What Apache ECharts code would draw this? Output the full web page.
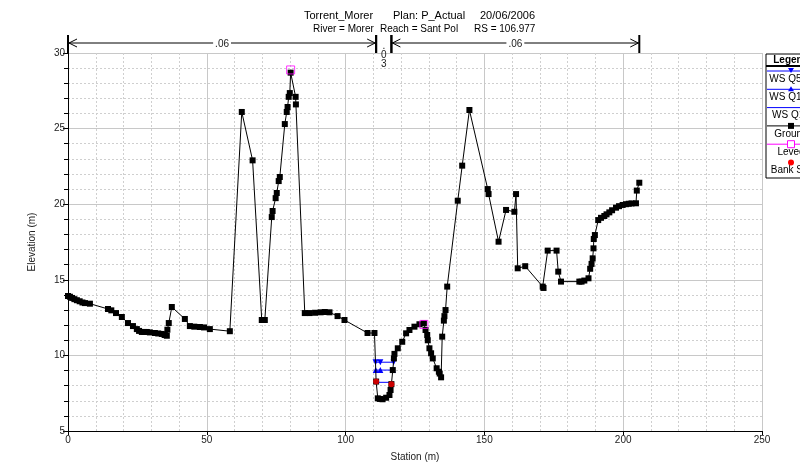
<!DOCTYPE html>
<html>
<head>
<meta charset="utf-8">
<script src="https://cdn.jsdelivr.net/npm/echarts@6/dist/echarts.min.js"></script>
<style>
  html, body { margin: 0; padding: 0; background: #fff; }
  #chart { width: 800px; height: 469px; }
</style>
</head>
<body>
<div id="chart"></div>
<script>
// Cross section profile: station (m) vs elevation (m)
var groundStation = [0, 0.7, 1.5, 2.3, 3.2, 4.2, 5.2, 6.1, 7.9, 14.4, 15.6, 17.3, 19.4, 21.6, 23.4, 24.8, 25.6, 26.6, 27.5, 28.4, 29.5, 31.3, 32.5, 33.8, 34.8, 35.6, 35.8, 36.3, 37.4, 42.1, 43.9, 45.5, 47.5, 49.0, 51.1, 58.3, 62.6, 66.5, 69.8, 70.9, 73.4, 73.7, 74.8, 75.2, 75.9, 76.3, 78.1, 78.8, 79.1, 79.5, 79.9, 80.2, 82.0, 82.1, 85.3, 87.0, 89.0, 91.0, 92.5, 94.2, 97.1, 99.6, 107.9, 110.4, 111.0, 111.6, 112.4, 113.3, 114.6, 115.8, 116.2, 116.5, 117.0, 117.4, 117.6, 118.8, 120.4, 121.8, 123.0, 124.8, 126.6, 128.2, 128.8, 129.4, 129.6, 130.2, 130.8, 131.4, 132.8, 133.6, 133.9, 134.4, 134.8, 135.4, 135.6, 136.0, 136.6, 140.4, 142.0, 144.6, 151.2, 151.5, 155.1, 157.8, 160.8, 161.4, 162.0, 164.7, 171.0, 171.3, 172.8, 176.0, 176.6, 177.6, 184.2, 185.0, 186.0, 187.5, 188.1, 188.6, 189.0, 189.3, 189.4, 189.8, 191.0, 192.0, 193.2, 194.0, 195.0, 196.0, 197.4, 198.5, 199.8, 201.0, 202.0, 203.0, 204.6, 204.9, 205.8];
var groundElevation = [13.93, 13.88, 13.8, 13.72, 13.65, 13.58, 13.5, 13.46, 13.42, 13.07, 12.98, 12.8, 12.54, 12.14, 11.94, 11.74, 11.62, 11.55, 11.55, 11.55, 11.52, 11.48, 11.45, 11.42, 11.35, 11.3, 11.7, 12.14, 13.2, 12.41, 11.94, 11.9, 11.88, 11.85, 11.74, 11.6, 26.1, 22.9, 12.34, 12.34, 19.15, 19.55, 20.4, 20.74, 21.53, 21.8, 25.3, 26.1, 26.43, 27.1, 27.35, 28.7, 27.1, 26.6, 12.8, 12.8, 12.82, 12.85, 12.87, 12.85, 12.6, 12.34, 11.48, 11.48, 8.27, 7.16, 7.12, 7.1, 7.2, 7.38, 7.71, 8.1, 9.03, 9.8, 10.1, 10.47, 10.9, 11.46, 11.68, 11.9, 12.06, 12.12, 11.68, 11.35, 11.0, 10.47, 10.14, 9.8, 9.15, 8.92, 8.8, 8.55, 11.24, 12.3, 12.6, 13.0, 14.55, 20.23, 22.55, 26.23, 21.0, 20.67, 17.52, 19.62, 19.5, 20.67, 15.76, 15.9, 14.55, 14.46, 16.93, 16.93, 15.54, 14.88, 14.88, 14.88, 14.95, 15.1, 15.73, 16.05, 16.42, 17.08, 17.7, 17.96, 18.95, 19.1, 19.22, 19.33, 19.46, 19.6, 19.77, 19.87, 19.95, 20.0, 20.03, 20.05, 20.06, 20.9, 21.42];

// Water surfaces across the main channel
var wsQ500Station = [110.8, 112.5, 117.3];
var wsQ500Elevation = [9.55, 9.55, 9.55];
var wsQ100Station = [110.85, 112.5, 117.0];
var wsQ100Elevation = [9.03, 9.03, 9.03];
var wsQ10Station = [111.05, 116.55];
var wsQ10Elevation = [8.22, 8.22];

// Levees and bank stations
var leveeStation = [80.2, 128.2];
var leveeElevation = [28.88, 12.05];
var bankStation = [111.0, 116.5];
var bankElevation = [8.27, 8.1];

// Manning's n breaks and values
var nBreaks = [0, 111.0, 116.5, 205.8];
var nValues = ['.06', '.03', '.06'];

var seriesNames = ['WS Q500', 'WS Q100', 'WS Q10', 'Ground', 'Levee', 'Bank Sta'];

var xTicks = [0, 50, 100, 150, 200, 250];
var yTicks = [5, 10, 15, 20, 25, 30];

var titleParts = ['Torrent_Morer', 'Plan: P_Actual', '20/06/2006'];
var subtitleParts = ['River = Morer', 'Reach = Sant Pol', 'RS = 106.977'];

function zip(a, b) { return a.map(function (v, i) { return [v, b[i]]; }); }

var FONT = '"Liberation Sans", Arial, sans-serif';
var chart = echarts.init(document.getElementById('chart'));

var nData = nValues.map(function (v, i) { return [nBreaks[i], nBreaks[i + 1], 30, v]; });

function renderN(params, api) {
  var p1 = api.coord([api.value(0), 30]);
  var p2 = api.coord([api.value(1), 30]);
  var label = nValues[params.dataIndex];
  var x1 = p1[0], x2 = p2[0], top = p1[1];
  var y = top - 10;
  var stroke = { stroke: '#000', lineWidth: 1 };
  var children = [];
  children.push({ type: 'line', shape: { x1: x1, y1: top - 18, x2: x1, y2: top }, style: { stroke: '#000', lineWidth: 2 } });
  children.push({ type: 'line', shape: { x1: x2, y1: top - 18, x2: x2, y2: top }, style: { stroke: '#000', lineWidth: 2 } });
  if (x2 - x1 > 40) {
    children.push({ type: 'line', shape: { x1: x1, y1: y, x2: x2, y2: y }, style: stroke });
    children.push({ type: 'polyline', shape: { points: [[x1 + 9, y - 4], [x1 + 1, y], [x1 + 9, y + 4]] }, style: { stroke: '#000', lineWidth: 1, fill: null } });
    children.push({ type: 'polyline', shape: { points: [[x2 - 9, y - 4], [x2 - 1, y], [x2 - 9, y + 4]] }, style: { stroke: '#000', lineWidth: 1, fill: null } });
    children.push({ type: 'text', style: { x: (x1 + x2) / 2, y: y + 1, text: label, textAlign: 'center', textVerticalAlign: 'middle', font: '10px ' + FONT, fill: '#222', backgroundColor: '#fff', padding: [0, 2] } });
  } else {
    label.split('').forEach(function (ch, k) {
      children.push({ type: 'text', style: { x: (x1 + x2) / 2, y: y + 3 + k * 9, text: ch, textAlign: 'center', textVerticalAlign: 'middle', font: '10px ' + FONT, fill: '#222' } });
    });
  }
  return { type: 'group', children: children };
}

var legendColors = ['#0000ff', '#0000ff', '#0000ff', '#000000', '#ff00ff', '#ff0000'];
var legendSymbols = ['down', 'up', 'none', 'square', 'hollow', 'dot'];
var lgX = 766, lgY = 54, lgCx = 791;
var legendGraphics = [
  { type: 'rect', shape: { x: lgX, y: lgY, width: 60, height: 124 }, style: { fill: '#fff', stroke: '#000', lineWidth: 1 }, z: 100 },
  { type: 'text', style: { x: lgCx, y: lgY + 6, text: 'Legend', textAlign: 'center', textVerticalAlign: 'middle', font: 'bold 10px ' + FONT, fill: '#000' }, z: 101 },
  { type: 'line', shape: { x1: lgX, y1: lgY + 12, x2: lgX + 60, y2: lgY + 12 }, style: { stroke: '#000', lineWidth: 2 }, z: 101 }
];
seriesNames.forEach(function (name, i) {
  var ly = lgY + 17 + i * 18.3;
  var c = legendColors[i];
  var s = legendSymbols[i];
  if (s !== 'dot') {
    legendGraphics.push({ type: 'line', shape: { x1: lgX + 1, y1: ly, x2: lgX + 60, y2: ly }, style: { stroke: c, lineWidth: 1 }, z: 101 });
  }
  if (s === 'down') {
    legendGraphics.push({ type: 'polygon', shape: { points: [[lgCx - 3, ly - 3], [lgCx + 3, ly - 3], [lgCx, ly + 2]] }, style: { fill: c }, z: 102 });
  } else if (s === 'up') {
    legendGraphics.push({ type: 'polygon', shape: { points: [[lgCx - 3, ly + 2], [lgCx + 3, ly + 2], [lgCx, ly - 3]] }, style: { fill: c }, z: 102 });
  } else if (s === 'square') {
    legendGraphics.push({ type: 'rect', shape: { x: lgCx - 3, y: ly - 3, width: 6, height: 6 }, style: { fill: c }, z: 102 });
  } else if (s === 'hollow') {
    legendGraphics.push({ type: 'rect', shape: { x: lgCx - 3.5, y: ly - 3.5, width: 7, height: 7 }, style: { fill: '#fff', stroke: c, lineWidth: 1 }, z: 102 });
  } else if (s === 'dot') {
    legendGraphics.push({ type: 'circle', shape: { cx: lgCx, cy: ly, r: 3 }, style: { fill: c }, z: 102 });
  }
  legendGraphics.push({ type: 'text', style: { x: lgCx, y: ly + 8, text: name, textAlign: 'center', textVerticalAlign: 'middle', font: '10px ' + FONT, fill: '#000' }, z: 101 });
});

var titleX = [304, 393, 480];
var subtitleX = [313, 380, 474];
var titleGraphics = [];
titleParts.forEach(function (t, i) {
  titleGraphics.push({ type: 'text', style: { x: titleX[i], y: 16, text: t, textVerticalAlign: 'middle', font: '11px ' + FONT, fill: '#000' } });
});
subtitleParts.forEach(function (t, i) {
  titleGraphics.push({ type: 'text', style: { x: subtitleX[i], y: 29, text: t, textVerticalAlign: 'middle', font: '10px ' + FONT, fill: '#000' } });
});

var option = {
  backgroundColor: '#fff',
  animation: false,
  textStyle: { fontFamily: FONT },
  grid: { left: 68, right: 38, top: 53, bottom: 38 },
  xAxis: {
    type: 'value', min: xTicks[0], max: xTicks[xTicks.length - 1], interval: 50,
    name: 'Station (m)', nameLocation: 'middle', nameGap: 21,
    nameTextStyle: { fontSize: 10, color: '#222', fontFamily: FONT },
    axisLine: { show: true, lineStyle: { color: '#000', width: 1 } },
    axisTick: { show: true, length: 4, lineStyle: { color: '#000' } },
    axisLabel: { fontSize: 10, color: '#222', margin: 4, fontFamily: FONT },
    splitLine: { show: true, lineStyle: { color: '#c8c8c8', width: 1 } },
    minorTick: { show: false, splitNumber: 5 },
    minorSplitLine: { show: true, lineStyle: { color: '#cfcfcf', type: [2, 2], width: 1 } }
  },
  yAxis: {
    type: 'value', min: yTicks[0], max: yTicks[yTicks.length - 1], interval: 5,
    name: 'Elevation (m)', nameLocation: 'middle', nameGap: 31,
    nameTextStyle: { fontSize: 10, color: '#222', fontFamily: FONT },
    axisLine: { show: true, lineStyle: { color: '#000', width: 1 } },
    axisTick: { show: true, length: 5, lineStyle: { color: '#000' } },
    axisLabel: { fontSize: 10, color: '#222', margin: 3, fontFamily: FONT },
    splitLine: { show: true, lineStyle: { color: '#c8c8c8', width: 1 } },
    minorTick: { show: true, splitNumber: 5, length: 4, lineStyle: { color: '#000' } },
    minorSplitLine: { show: true, lineStyle: { color: '#cfcfcf', type: [2, 2], width: 1 } }
  },
  graphic: titleGraphics.concat(legendGraphics),
  series: [
    {
      name: seriesNames[0], type: 'line', data: zip(wsQ500Station, wsQ500Elevation),
      symbol: 'triangle', symbolRotate: 180, symbolSize: 6, showAllSymbol: true,
      lineStyle: { color: '#0000ff', width: 1 }, itemStyle: { color: '#0000ff' }, z: 3
    },
    {
      name: seriesNames[1], type: 'line', data: zip(wsQ100Station, wsQ100Elevation),
      symbol: 'triangle', symbolSize: 6, showAllSymbol: true,
      lineStyle: { color: '#0000ff', width: 1 }, itemStyle: { color: '#0000ff' }, z: 3
    },
    {
      name: seriesNames[2], type: 'line', data: zip(wsQ10Station, wsQ10Elevation),
      symbol: 'none', lineStyle: { color: '#0000ff', width: 1 }, z: 3
    },
    {
      name: seriesNames[3], type: 'line', data: zip(groundStation, groundElevation),
      symbol: 'rect', symbolSize: 6, showAllSymbol: true,
      lineStyle: { color: '#000', width: 1 }, itemStyle: { color: '#000' }, z: 4
    },
    {
      name: seriesNames[4], type: 'scatter', data: zip(leveeStation, leveeElevation),
      symbol: 'rect', symbolSize: 8,
      itemStyle: { color: 'rgba(0,0,0,0)', borderColor: '#ff00ff', borderWidth: 1 }, z: 5
    },
    {
      name: seriesNames[5], type: 'scatter', data: zip(bankStation, bankElevation),
      symbol: 'circle', symbolSize: 6,
      itemStyle: { color: '#ff0000' }, z: 6
    },
    {
      name: 'n', type: 'custom', data: nData, clip: false,
      encode: { x: [0, 1], y: 2 },
      renderItem: renderN, z: 7, silent: true
    }
  ]
};
chart.setOption(option);
</script>
</body>
</html>
